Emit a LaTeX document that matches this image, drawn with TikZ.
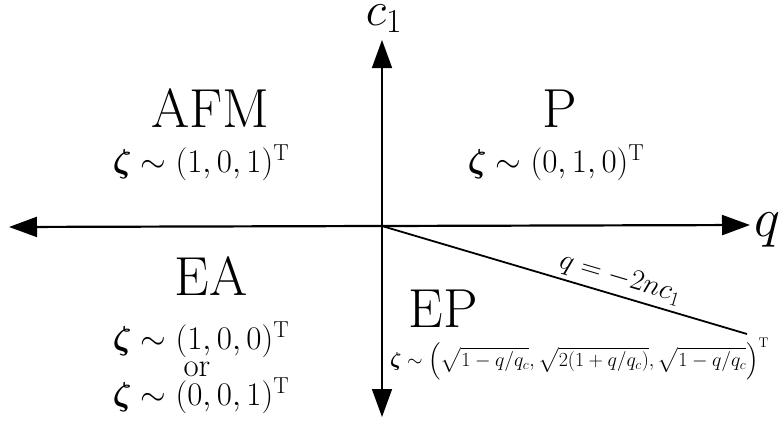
\RequirePackage{fix-cm}
\documentclass[tikz,border=0pt]{standalone}
\usepackage{amsmath}
\usepackage{bm}
\usetikzlibrary{arrows.meta}
\newcommand\myfs[1]{\fontsize{#1}{#1}\selectfont}
\begin{document}
\begin{tikzpicture}[x=1pt,y=-1pt,
  haxis/.style={line width=2.2pt,{Triangle[length=28pt,width=20pt]}-{Triangle[length=28pt,width=20pt]}},
  vaxis/.style={line width=1.6pt,{Triangle[length=28pt,width=20pt]}-{Triangle[length=28pt,width=20pt]}},
  border/.style={line width=1.8pt},
  phase/.style={font=\myfs{55}, inner sep=0pt, anchor=base},
  vec/.style={font=\myfs{33}, inner sep=0pt, anchor=base},
  axlabel/.style={inner sep=0pt}]
\useasboundingbox (0,0) rectangle (782,421);
\coordinate (O) at (382,226);
\coordinate (L) at (9,227);
\coordinate (R) at (750,225);
\coordinate (T) at (382,40);
\coordinate (B) at (382,417);
\coordinate (D) at (747,334);
\draw[haxis] (L) -- (R);
\draw[vaxis] (B) -- (T);
\draw[border] (O) -- (D) node[pos=0.64, sloped, above=4pt, font=\myfs{29}, inner sep=0pt] (lbl) {$q=-2nc_1$};
\node[axlabel, font=\myfs{48}, anchor=base] (c1) at (384,25) {$c_1$};
\node[axlabel, font=\myfs{55}, anchor=base west] (ql) at (754,236) {$q$};
\node[phase] (afm) at (210,127) {AFM};
\node[vec] (afmv) at (201,172) {$\bm{\zeta}\sim(1,0,1)^{\mathrm{T}}$};
\node[phase] (p) at (560,127) {P};
\node[vec] (pv) at (556,172) {$\bm{\zeta}\sim(0,1,0)^{\mathrm{T}}$};
\node[phase] (ea) at (211,295) {EA};
\node[vec] (eav1) at (201,349) {$\bm{\zeta}\sim(1,0,0)^{\mathrm{T}}$};
\node[vec] (eaor) at (197,376) {or};
\node[vec] (eav2) at (201,405) {$\bm{\zeta}\sim(0,0,1)^{\mathrm{T}}$};
\node[phase] (ep) at (443.5,327) {EP};
\node[font=\myfs{20}, inner sep=0pt, anchor=base west] (epv) at (390,366) {$\bm{\zeta}\sim\left(\sqrt{1-q/q_c},\sqrt{2(1+q/q_c)},\sqrt{1-q/q_c}\right)^{\mathrm{T}}$};
\end{tikzpicture}
\end{document}
